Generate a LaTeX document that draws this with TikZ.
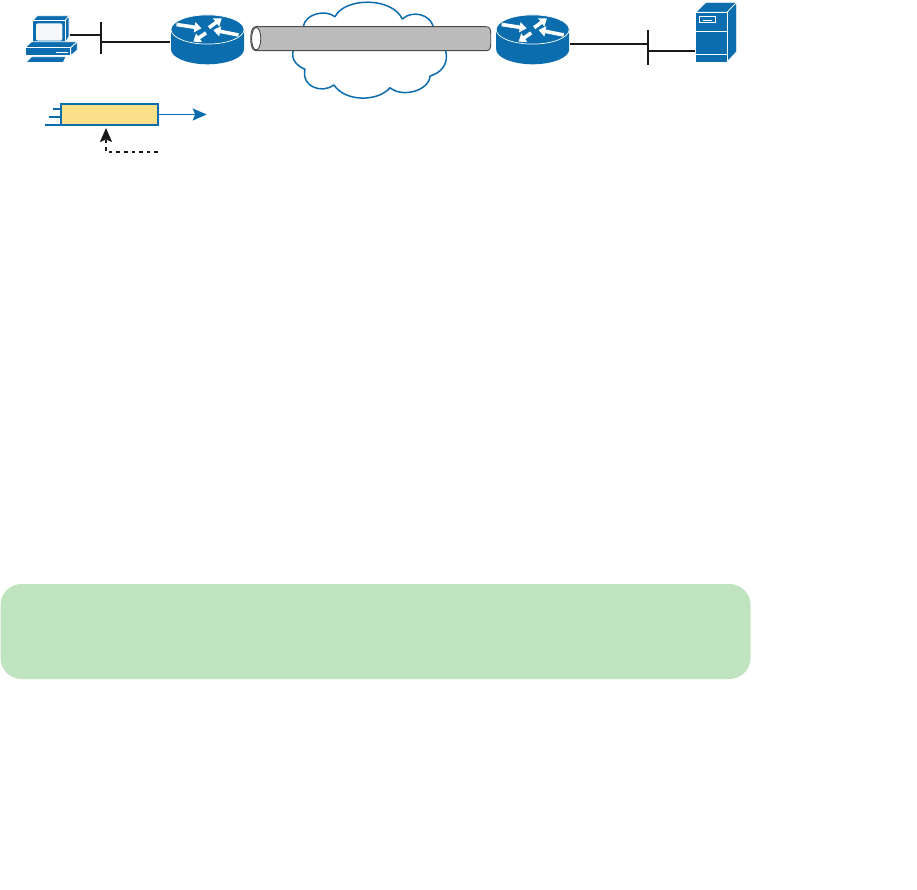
\documentclass[tikz,border=0pt]{standalone}
\usetikzlibrary{arrows.meta}
\definecolor{ciscoblue}{HTML}{0B6DAE}
\definecolor{tubegray}{HTML}{BBBBBB}
\definecolor{tubeedge}{HTML}{4A4A4A}
\definecolor{packetfill}{HTML}{FDE08A}
\definecolor{notegreen}{HTML}{C1E4C0}
\definecolor{screenpale}{HTML}{F4F8FB}
\tikzset{
  wire/.style={draw=black!90,line width=1.8pt},
  bluewire/.style={draw=ciscoblue,line width=1.8pt},
  iconface/.style={fill=ciscoblue,draw=white,line width=0.7pt,line join=round},
  rarrow/.style={white,line width=3.6pt,-{Triangle[length=7pt,width=10pt]}},
  anchorbox/.style={inner sep=0pt,outer sep=0pt,minimum width=#1},
}
\newcommand{\routericon}[1]{%
  \begin{scope}[shift={(#1,29.5)}]
    \fill[ciscoblue] (-36.5,0) -- (-36.5,20) .. controls (-36.5,28) and (-20,34.8) .. (0,34.8)
      .. controls (20,34.8) and (36.5,28) .. (36.5,20) -- (36.5,0) -- cycle;
    \draw[iconface] (0,0) ellipse[x radius=36.5,y radius=14.6];
    \draw[rarrow] (-31,-5) -- (-6,-1.2);
    \draw[rarrow] (1.5,-1.8) -- (14.2,-11.2);
    \draw[rarrow] (31,5.5) -- (5.8,0.5);
    \draw[rarrow] (-1.5,3.4) -- (-14.2,12.2);
  \end{scope}}
\begin{document}
\begin{tikzpicture}[x=1pt,y=-1pt]
\useasboundingbox (0,0) rectangle (917,890);

% note panel
\fill[notegreen,rounded corners=21pt] (0.5,584) rectangle (750.5,679);

% cloud
\draw[ciscoblue,line width=1.5pt,fill=white,line join=round]
  (303.3,26.7) .. controls (305,14) and (325,9) .. (335,16.7)
  .. controls (345,-3) and (392,-3) .. (402.3,19)
  .. controls (412,10) and (430,14) .. (433.3,26.7)
  -- (445.7,50.7)
  .. controls (449,64) and (441,73) .. (430,76)
  .. controls (429,91) and (402,98) .. (390,87.7)
  .. controls (378,102) and (345,102) .. (334,85)
  .. controls (322,94) and (301,87) .. (305,69.3)
  .. controls (295,65) and (291,58) .. (293.3,50.7)
  -- cycle;

% tunnel
\draw[tubeedge,line width=0.9pt,fill=tubegray]
  (255.5,26.7) -- (486,26.7) .. controls (489.5,26.7) and (490.7,29) .. (490.7,33)
  -- (490.7,44.5) .. controls (490.7,48.5) and (489.5,50.7) .. (486,50.7)
  -- (255.5,50.7) .. controls (252,50.7) and (250.7,44) .. (250.7,38.7)
  .. controls (250.7,33) and (252,26.7) .. (255.5,26.7) -- cycle;
\draw[tubeedge,line width=0.9pt,fill=white] (256.2,38.7) ellipse[x radius=4.6,y radius=11.2];

% routers
\node[anchorbox=73pt,minimum height=49pt] (r1) at (207.5,39.5) {};
\node[anchorbox=73pt,minimum height=49pt] (r2) at (532.7,39.5) {};
\routericon{207.5}
\routericon{532.7}

% PC
\node[anchorbox=53pt,minimum height=48pt] (pc) at (52,39) {};
\draw[iconface] (32.7,20.7) -- (37.3,15.7) -- (69,15.7) -- (65,20.7) -- cycle;
\draw[iconface] (65,20.7) -- (69,15.7) -- (69,36.7) -- (65,43.3) -- cycle;
\draw[iconface] (32.7,20.7) rectangle (65,43.3);
\fill[screenpale,rounded corners=2pt] (36,23.3) rectangle (62.3,40.7);
\draw[iconface] (25,47.7) -- (31.7,41.7) -- (77.3,41.7) -- (70.7,47.7) -- cycle;
\draw[iconface] (70.7,47.7) -- (77.3,41.7) -- (77.3,50) -- (70.7,55.7) -- cycle;
\draw[iconface] (25,47.7) rectangle (70.7,55.7);
\draw[white,line width=0.7pt] (56,52.3) -- (68.3,52.3);
\draw[iconface] (26,62.5) -- (31.7,56.7) -- (66,56.7) -- (63.3,62.5) -- cycle;

% server
\node[anchorbox=41pt,minimum height=60pt] (srv) at (712,32) {};
\draw[iconface] (695.7,12.3) -- (706,2.3) -- (736.7,2.3) -- (727,12.3) -- cycle;
\draw[iconface] (727,12.3) -- (736.7,2.3) -- (736.7,51.7) -- (727,62) -- cycle;
\draw[iconface] (695.7,12.3) rectangle (727,62);
\draw[white,line width=0.7pt] (695.7,31.7) -- (727,31.7);
\draw[white,line width=0.7pt] (695.7,54) -- (727,54);
\draw[white,line width=0.7pt] (699.3,16) rectangle (715.7,22.7);
\draw[white,line width=0.7pt] (703.3,20) -- (711.7,20);

% LAN segments
\coordinate (barLa) at (100.8,22);
\coordinate (barLb) at (100.8,54);
\coordinate (barRa) at (648,30);
\coordinate (barRb) at (648,64.7);
\coordinate (pcport) at (70,34.7);
\coordinate (r1port) at (170,42);
\coordinate (r2port) at (569.5,43.7);
\coordinate (srvport) at (695,50.7);
\draw[wire] (barLa) -- (barLb);
\draw[wire] (barRa) -- (barRb);
\draw[wire] (pcport) -- (pcport -| barLa);
\draw[wire] (barLa |- r1port) -- (r1port);
\draw[wire] (r2port) -- (r2port -| barRa);
\draw[wire] (barRa |- srvport) -- (srvport);

% packet
\node[draw=ciscoblue,fill=packetfill,line width=1.8pt,minimum width=97.6pt,minimum height=21pt,inner sep=0pt,outer sep=0pt] (pkt) at (109.5,114.5) {};
\coordinate (trailA) at (53.3,109.3);
\coordinate (trailB) at (49.3,117);
\coordinate (trailC) at (45,125);
\coordinate (pktend) at (206.7,114.5);
\coordinate (dashstart) at (158,152);
\coordinate (dashbend) at (106,152);
\coordinate (dashtip) at (106,128);
\draw[bluewire] (trailA) -- (trailA -| pkt.west);
\draw[bluewire] (trailB) -- (trailB -| pkt.west);
\draw[bluewire] (trailC) -- (trailC -| pkt.west);
\draw[bluewire,-{Stealth[length=14pt,width=12pt,inset=2.5pt]}] (pkt.east) -- (pktend);
\draw[black!90,line width=1.4pt,dash pattern=on 3.6pt off 4pt,-{Stealth[length=14pt,width=12pt,inset=2.5pt]}] (dashstart) -- (dashbend) -- (dashtip);
\end{tikzpicture}
\end{document}
